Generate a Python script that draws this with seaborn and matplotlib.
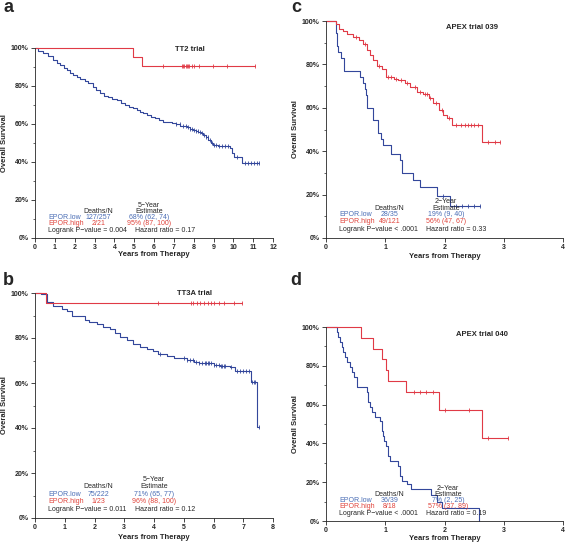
import numpy as np
import pandas as pd
import matplotlib
matplotlib.use("Agg")
import matplotlib.pyplot as plt
import seaborn as sns
from matplotlib.ticker import MultipleLocator, FuncFormatter

sns.set_style("ticks")
plt.rcParams['font.family'] = ['Liberation Sans', 'DejaVu Sans']

RED = "#e03a46"
BLUE = "#33479b"
TXT_BLUE = "#4a6db5"
TXT_RED = "#e0443c"

# ---- panel a: TT2 trial ----
a_low_t = [0, 0.17, 0.42, 0.67, 0.92, 1.1, 1.26, 1.45, 1.6, 1.78, 1.93, 2.1, 2.27, 2.5, 2.69,
           2.94, 3.1, 3.28, 3.5, 3.7, 3.9, 4.12, 4.35, 4.54, 4.75, 4.96, 5.12, 5.29, 5.45, 5.63,
           5.85, 6.05, 6.25, 6.47, 6.7, 6.89, 7.1, 7.31, 7.5, 7.65, 7.8, 7.98, 8.1, 8.24, 8.36,
           8.49, 8.6, 8.74, 8.85, 8.99, 9.24, 9.83, 9.92, 10.03, 10.42, 11.3]
a_low_s = [100, 98.6, 97.5, 95.8, 93.7, 92.3, 91.0, 89.6, 88.4, 87.1, 85.8, 84.6, 83.5, 82.4, 81.4,
           79.6, 77.9, 76.1, 75.0, 74.0, 73.3, 72.6, 71.2, 70.0, 69.1, 68.2, 67.3, 66.5, 65.6, 64.7,
           63.8, 63.0, 62.1, 61.2, 60.8, 60.4, 59.8, 59.1, 58.7, 58.2, 57.5, 56.8, 56.4, 56.0, 55.1,
           54.2, 52.9, 51.6, 50.2, 48.9, 48.4, 47.2, 44.6, 42.5, 39.6, 39.6]
a_low_cens = [7.1, 7.3, 7.45, 7.6, 7.7, 7.8, 7.9, 8.0, 8.1, 8.2, 8.3, 8.4, 8.5, 8.6, 8.7, 8.8,
              8.9, 9.0, 9.15, 9.3, 9.45, 9.6, 9.75, 10.2, 10.6, 10.75, 10.9, 11.05, 11.2, 11.3]
a_high_t = [0, 4.94, 5.38, 11.09]
a_high_s = [100, 95.2, 90.5, 90.5]
a_high_cens = [6.47, 7.39, 7.48, 7.53, 7.6, 7.65, 7.7, 7.76, 7.9, 8.0, 8.27, 8.99, 9.7, 11.09]

# ---- panel b: TT3A trial ----
b_low_t = [0, 0.2, 0.39, 0.62, 0.9, 1.07, 1.23, 1.68, 1.8, 2.08, 2.3, 2.53, 2.69, 2.86, 3.09,
           3.31, 3.54, 3.76, 3.98, 4.15, 4.43, 4.66, 5.1, 5.33, 5.5, 5.78, 6.0, 6.23, 6.57, 6.73,
           7.26, 7.46, 7.52]
b_low_s = [100, 99.4, 96.0, 94.1, 93.0, 91.9, 89.7, 88.2, 87.1, 86.4, 84.9, 83.8, 82.4, 80.5, 79.3,
           77.5, 76.1, 75.3, 74.3, 72.8, 71.9, 71.3, 70.2, 69.4, 69.0, 68.7, 67.9, 67.5, 66.9, 65.4,
           60.6, 40.6, 40.6]
b_low_cens = [4.2, 5.0, 5.1, 5.2, 5.3, 5.4, 5.5, 5.6, 5.7, 5.75, 5.8, 5.85, 5.9, 6.0, 6.1, 6.2,
              6.25, 6.3, 6.35, 6.4, 6.6, 6.8, 6.9, 7.0, 7.1, 7.2, 7.3, 7.35, 7.4, 7.52]
b_high_t = [0, 0.38, 6.96]
b_high_s = [100, 95.7, 95.7]
b_high_cens = [4.15, 5.25, 5.31, 5.44, 5.56, 5.69, 5.8, 5.91, 6.03, 6.17, 6.36, 6.68, 6.96]

# ---- panel c: APEX trial 039 ----
c_low_t = [0, 0.17, 0.18, 0.21, 0.25, 0.3, 0.57, 0.62, 0.65, 0.68, 0.7, 0.79, 0.88, 0.92, 0.97,
           1.1, 1.25, 1.28, 1.46, 1.58, 1.88, 2.09, 2.6]
c_low_s = [100, 94.3, 88.6, 85.7, 82.9, 77.1, 74.3, 71.4, 68.6, 65.7, 60.0, 54.3, 48.6, 45.7, 42.9,
           38.9, 35.8, 29.9, 26.8, 23.4, 19.4, 14.7, 14.7]
c_low_cens = [1.98, 2.2, 2.3, 2.4, 2.5, 2.6]
c_high_t = [0, 0.17, 0.22, 0.29, 0.36, 0.45, 0.55, 0.63, 0.7, 0.74, 0.8, 0.86, 0.94, 1.01, 1.14,
            1.22, 1.33, 1.42, 1.53, 1.64, 1.73, 1.81, 1.9, 1.98, 2.04, 2.12, 2.63, 2.94]
c_high_s = [100, 98.8, 96.5, 95.3, 94.2, 92.6, 91.1, 89.6, 86.5, 84.2, 81.9, 79.2, 78.1, 74.3, 73.5,
            72.7, 71.2, 69.4, 67.4, 66.3, 64.3, 62.0, 59.0, 56.7, 55.1, 52.1, 44.4, 44.4]
c_high_cens = [0.5, 0.65, 0.9, 1.05, 1.1, 1.18, 1.27, 1.37, 1.5, 1.58, 1.67, 1.7, 1.76, 1.85,
               1.95, 2.08, 2.2, 2.28, 2.35, 2.4, 2.45, 2.5, 2.56, 2.73, 2.85, 2.94]

# ---- panel d: APEX trial 040 ----
d_low_t = [0, 0.18, 0.21, 0.24, 0.27, 0.29, 0.32, 0.35, 0.4, 0.44, 0.47, 0.52, 0.69, 0.71, 0.74,
           0.77, 0.83, 0.91, 0.94, 0.96, 0.98, 1.01, 1.05, 1.08, 1.22, 1.25, 1.29, 1.36, 1.43,
           1.78, 1.87, 1.95, 2.59]
d_low_s = [100, 97.4, 94.9, 92.3, 89.7, 87.2, 84.6, 82.1, 79.5, 76.9, 74.4, 69.2, 66.7, 61.5, 59.0,
           56.4, 53.8, 51.3, 46.2, 43.6, 41.0, 38.5, 33.3, 30.8, 28.2, 23.1, 20.5, 19.2, 16.7,
           13.4, 10.0, 6.9, 0.0]
d_low_cens = []
d_high_t = [0, 0.59, 0.8, 0.94, 1.02, 1.05, 1.35, 1.91, 2.64, 3.08]
d_high_s = [100, 94.4, 88.9, 83.3, 77.8, 72.2, 66.7, 57.1, 42.9, 42.9]
d_high_cens = [1.49, 1.59, 1.69, 1.8, 2.0, 2.42, 2.74, 3.08]

# summary text per panel
titles = ["TT2 trial", "TT3A trial", "APEX trial 039", "APEX trial 040"]
horizons = ["5\u2212Year", "5\u2212Year", "2\u2212Year", "2\u2212Year"]
deaths_low = ["127/257", "75/222", "28/35", "36/39"]
deaths_high = ["2/21", "1/23", "49/121", "8/18"]
est_low = ["68% (62, 74)", "71% (65, 77)", "19% (9, 40)", "7% (2, 25)"]
est_high = ["95% (87, 100)", "96% (88, 100)", "56% (47, 67)", "57% (37, 89)"]
pvals = ["= 0.004", "= 0.011", "< .0001", "< .0001"]
hazards = ["0.17", "0.12", "0.33", "0.19"]
letters = ["a", "b", "c", "d"]

W, H = 567, 543
fig = plt.figure(figsize=(W / 100, H / 100), dpi=100)


def px_axes(x0, x1, y0, y1):
    return fig.add_axes([x0 / W, 1 - y1 / H, (x1 - x0) / W, (y1 - y0) / H])


def surv_at(t, s, c):
    idx = np.searchsorted(t, c, side="right") - 1
    return np.array(s)[idx]


def km_panel(ax, low, high, xmax, i, title_xy, est_x):
    for (t, s, cens), col in [(low, BLUE), (high, RED)]:
        df = pd.DataFrame({"t": t, "s": s})
        sns.lineplot(data=df, x="t", y="s", drawstyle="steps-post", color=col, lw=0.8,
                     estimator=None, sort=False, ax=ax, clip_on=False)
        if len(cens):
            ax.plot(cens, surv_at(t, s, cens), ls="none", marker="|", ms=3, mew=0.6,
                    color=col, clip_on=False)
    ax.set_xlim(0, xmax)
    ax.set_ylim(0, 100)
    ax.xaxis.set_major_locator(MultipleLocator(1))
    ax.yaxis.set_major_locator(MultipleLocator(20))
    ax.yaxis.set_minor_locator(MultipleLocator(10))
    ax.yaxis.set_major_formatter(FuncFormatter(lambda v, p: f"{v:.0f}%"))
    ax.tick_params(which="major", length=3, width=0.6, labelsize=5, pad=1.5)
    ax.tick_params(which="minor", length=1.5, width=0.5)
    for lab in ax.get_xticklabels() + ax.get_yticklabels():
        lab.set_fontweight("bold")
    sns.despine(ax=ax)
    for sp in ["left", "bottom"]:
        ax.spines[sp].set_linewidth(0.6)
    ax.set_xlabel("Years from Therapy", fontsize=5.5, fontweight="bold")
    ax.set_ylabel("Overall Survival", fontsize=5.5, fontweight="bold")
    ax.xaxis.set_label_coords(0.5, -0.07)
    ax.yaxis.set_label_coords(-0.112, 0.5)
    ax.text(title_xy[0], title_xy[1], titles[i], transform=ax.transAxes, ha="center",
            va="center", fontsize=5.5, fontweight="bold")
    kw = dict(transform=ax.transAxes, fontsize=5, va="center")
    ax.text(est_x, 0.17, horizons[i], ha="center", **kw)
    ax.text(0.267, 0.138, "Deaths/N", ha="center", **kw)
    ax.text(est_x, 0.138, "Estimate", ha="center", **kw)
    ax.text(0.055, 0.106, "EPOR.low", ha="left", color=TXT_BLUE, **kw)
    ax.text(0.267, 0.106, deaths_low[i], ha="center", color=TXT_BLUE, **kw)
    ax.text(est_x, 0.106, est_low[i], ha="center", color=TXT_BLUE, **kw)
    ax.text(0.055, 0.074, "EPOR.high", ha="left", color=TXT_RED, **kw)
    ax.text(0.267, 0.074, deaths_high[i], ha="center", color=TXT_RED, **kw)
    ax.text(est_x, 0.074, est_high[i], ha="center", color=TXT_RED, **kw)
    ax.text(0.055, 0.038, f"Logrank P\u2212value {pvals[i]}", ha="left", **kw)
    ax.text(0.42, 0.038, f"Hazard ratio = {hazards[i]}", ha="left", **kw)


ax_a = px_axes(35, 273, 48, 238)
km_panel(ax_a, (a_low_t, a_low_s, a_low_cens), (a_high_t, a_high_s, a_high_cens), 12, 0,
         (0.65, 0.99), 0.479)
ax_b = px_axes(35, 273, 293, 518)
km_panel(ax_b, (b_low_t, b_low_s, b_low_cens), (b_high_t, b_high_s, b_high_cens), 8, 1,
         (0.67, 0.996), 0.5)
ax_c = px_axes(326, 563, 21, 238)
km_panel(ax_c, (c_low_t, c_low_s, c_low_cens), (c_high_t, c_high_s, c_high_cens), 4, 2,
         (0.616, 0.968), 0.506)
ax_d = px_axes(326, 563, 327, 521)
km_panel(ax_d, (d_low_t, d_low_s, d_low_cens), (d_high_t, d_high_s, d_high_cens), 4, 3,
         (0.66, 0.96), 0.515)

for lab, (x, y) in zip(letters, [(3, 12), (3, 285), (291, 12), (290, 285)]):
    fig.text(x / W, 1 - y / H, lab, fontsize=13, fontweight="bold", va="baseline", ha="left")

fig.savefig("out.png", dpi=100)
